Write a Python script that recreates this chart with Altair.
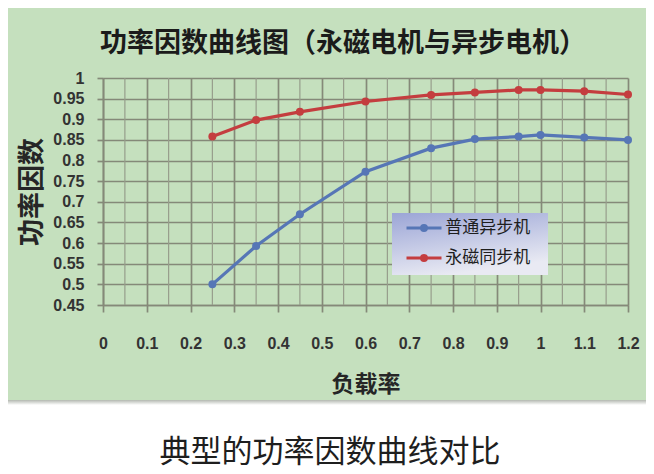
import altair as alt
import pandas as pd

# ---- data ----
load_rate = [0.25, 0.35, 0.45, 0.6, 0.75, 0.85, 0.95, 1.0, 1.1, 1.2]
async_pf = [0.50, 0.593, 0.67, 0.773, 0.83, 0.852, 0.858, 0.862, 0.856, 0.85]
pm_pf = [0.858, 0.898, 0.918, 0.943, 0.959, 0.965, 0.971, 0.971, 0.968, 0.96]
series_names = ["普通异步机", "永磁同步机"]
series_colors = ["#5676b6", "#c43d3f"]

x_ticks = [0, 0.1, 0.2, 0.3, 0.4, 0.5, 0.6, 0.7, 0.8, 0.9, 1.0, 1.1, 1.2]
x_minor = [0.05, 0.15, 0.25, 0.35, 0.45, 0.55, 0.65, 0.75, 0.85, 0.95, 1.05, 1.15]
y_ticks = [0.45, 0.5, 0.55, 0.6, 0.65, 0.7, 0.75, 0.8, 0.85, 0.9, 0.95, 1.0]

title_text = "功率因数曲线图（永磁电机与异步电机）"
caption_text = "典型的功率因数曲线对比"
x_title = "负载率"
y_title = "功率因数"

# ---- tables ----
df = pd.DataFrame(
    {
        "load": load_rate * 2,
        "pf": async_pf + pm_pf,
        "series": [series_names[0]] * len(load_rate) + [series_names[1]] * len(load_rate),
    }
)
minor_df = pd.DataFrame({"load": x_minor})

CJK = "Noto Sans CJK SC"
NUM = "Liberation Sans"
GRID = "#858979"
GREEN = "#c5e0be"

x_scale = alt.Scale(domain=[0, 1.2], nice=False, zero=False)
y_scale = alt.Scale(domain=[0.45, 1.0], nice=False, zero=False)

x_axis = alt.Axis(
    values=x_ticks, format=".1~f", title=x_title,
    grid=True, gridColor=GRID, gridWidth=1.7, gridOpacity=1,
    domainColor=GRID, domainWidth=1.7,
    tickColor=GRID, tickWidth=1.7, tickSize=7,
    labelFont=NUM, labelFontSize=16, labelFontWeight="bold", labelColor="#333333",
    labelBaseline="middle", labelPadding=31, labelFlush=False, labelOverlap=False,
    titleFont=CJK, titleFontSize=23, titleFontWeight="bold", titleColor="#262626",
    titleX=262.5, titleY=79, titleBaseline="middle", titleAlign="center",
)
y_axis = alt.Axis(
    values=y_ticks, format=".2~f", title=y_title,
    grid=True, gridColor=GRID, gridWidth=1.7, gridOpacity=1,
    domainColor=GRID, domainWidth=1.7,
    tickColor=GRID, tickWidth=1.7, tickSize=6,
    labelFont=NUM, labelFontSize=16, labelFontWeight="bold", labelColor="#333333",
    labelPadding=13, labelFlush=False, labelOverlap=False,
    titleFont=CJK, titleFontSize=27, titleFontWeight="bold", titleColor="#262626",
    titleX=-71, titleY=113.5, titleAngle=270, titleBaseline="middle", titleAlign="center",
)

legend_path = (
    "M-1.75,0H1.75"
    "M0.25,0A0.25,0.25,0,1,1,-0.25,0A0.25,0.25,0,1,1,0.25,0"
    "M0.1,0A0.1,0.1,0,1,1,-0.1,0A0.1,0.1,0,1,1,0.1,0"
)

color_scale = alt.Scale(domain=series_names, range=series_colors)
color_enc = alt.Color(
    "series:N",
    scale=color_scale,
    legend=alt.Legend(
        title=None, orient="none", legendX=309.5, legendY=138.5,
        symbolType=legend_path, symbolSize=400, symbolStrokeWidth=3,
        labelFont=CJK, labelFontSize=17, labelColor="#1e1e1e",
        labelOffset=9.7, rowPadding=10, padding=0,
    ),
)

minor_grid = alt.Chart(minor_df).mark_rule(color="#979d8c", strokeWidth=1.2).encode(
    x=alt.X("load:Q", scale=x_scale, axis=x_axis)
)

legend_box = alt.Chart(alt.Data(values=[{}])).mark_rect(
    fill=alt.LinearGradient(
        gradient="linear",
        stops=[
            alt.GradientStop(offset=0, color="#9ba5d6"),
            alt.GradientStop(offset=1, color="#e9eaf3"),
        ],
        x1=0, y1=0, x2=0.35, y2=1,
    )
).encode(x=alt.value(289), x2=alt.value(445), y=alt.value(135), y2=alt.value(197))

lines = alt.Chart(df).mark_line(strokeWidth=3.2).encode(
    x=alt.X("load:Q", scale=x_scale, axis=x_axis),
    y=alt.Y("pf:Q", scale=y_scale, axis=y_axis),
    color=color_enc,
    order="load:Q",
)

points = alt.Chart(df).mark_circle(size=64, opacity=1).encode(
    x=alt.X("load:Q", scale=x_scale, axis=x_axis),
    y=alt.Y("pf:Q", scale=y_scale, axis=y_axis),
    color=color_enc,
)

white_base = alt.Chart(alt.Data(values=[{}])).mark_rect(fill="white").encode(
    x=alt.value(-95), x2=alt.value(543), y=alt.value(322), y2=alt.value(396)
)
shadow = alt.Chart(alt.Data(values=[{}])).mark_rect(
    fill=alt.LinearGradient(
        gradient="linear",
        stops=[
            alt.GradientStop(offset=0, color="#b3b8b0"),
            alt.GradientStop(offset=1, color="#ffffff"),
        ],
        x1=0, y1=0, x2=0, y2=1,
    )
).encode(x=alt.value(-95), x2=alt.value(543), y=alt.value(322), y2=alt.value(327))

caption = alt.Chart(alt.Data(values=[{"t": caption_text}])).mark_text(
    font=CJK, fontSize=31, color="#1e1e1e", align="center", baseline="middle"
).encode(x=alt.value(227), y=alt.value(375), text="t:N")

chart = (
    alt.layer(minor_grid, legend_box, lines, points, white_base, shadow, caption)
    .properties(
        width=525,
        height=227,
        padding={"left": 95, "top": 70, "right": 18, "bottom": 169},
        autosize=alt.AutoSizeParams(type="none"),
        background=GREEN,
        title=alt.TitleParams(
            text=title_text, font=CJK, fontSize=27, fontWeight="bold", color="#1b1b1b",
            anchor="middle", frame="group", dx=-22.5, offset=12,
        ),
    )
    .configure_view(stroke=None)
)

chart.save("out.html", embed_options={"renderer": "svg", "actions": False})
